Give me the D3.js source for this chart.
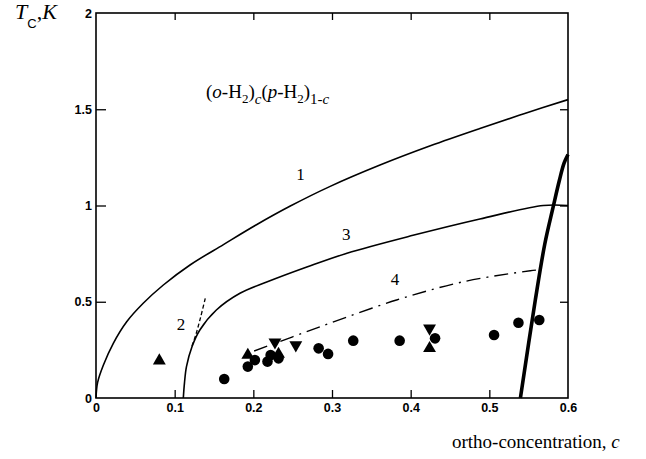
<!DOCTYPE html>
<html>
<head>
<meta charset="utf-8">
<script src="https://cdn.jsdelivr.net/npm/d3@7"></script>
<style>
  body { margin: 0; background: #fff; }
  svg { display: block; }
  .tick text { font-family: 'Liberation Sans', Arial, sans-serif; font-weight: bold; font-size: 12.5px; fill: #000; }
  .tick line { stroke: #000; stroke-width: 1.3; }
  .serif { font-family: 'Liberation Serif', 'Times New Roman', serif; fill: #000; }
</style>
</head>
<body>
<svg id="chart" width="646" height="459"></svg>
<script>
// curves, as (c, Tc) pairs
const curve1 = [
  [0, 0], [0.002, 0.08], [0.0093, 0.17], [0.022, 0.284], [0.039, 0.396], [0.06, 0.492],
  [0.0856, 0.587], [0.1195, 0.691], [0.162, 0.797], [0.204, 0.9], [0.247, 0.997],
  [0.297, 1.098], [0.361, 1.21], [0.425, 1.31], [0.488, 1.4], [0.545, 1.478], [0.6, 1.55]
];
const curve2 = [[0.122, 0.27], [0.127, 0.33], [0.133, 0.42], [0.139, 0.52]];
const curve3 = [
  [0.111, 0], [0.1125, 0.08], [0.115, 0.163], [0.122, 0.266], [0.132, 0.353], [0.153, 0.457],
  [0.183, 0.544], [0.217, 0.602], [0.268, 0.68], [0.319, 0.752], [0.403, 0.845],
  [0.488, 0.93], [0.5686, 1.0], [0.6, 1.0]
];
const curve4 = [
  [0.201, 0.244], [0.25, 0.318], [0.297, 0.388], [0.382, 0.509],
  [0.467, 0.604], [0.552, 0.661], [0.564, 0.666]
];
const curve5 = [
  [0.5395, 0], [0.5585, 0.51], [0.5705, 0.8], [0.581, 0.99],
  [0.589, 1.13], [0.595, 1.22], [0.6, 1.265]
];

const circles = [
  [0.163, 0.099], [0.193, 0.163], [0.202, 0.197], [0.218, 0.189], [0.222, 0.223],
  [0.232, 0.206], [0.283, 0.258], [0.295, 0.229], [0.327, 0.298], [0.386, 0.298],
  [0.431, 0.31], [0.506, 0.327], [0.537, 0.391], [0.5635, 0.405]
];
const trianglesUp = [[0.0805, 0.194], [0.193, 0.223], [0.232, 0.228], [0.424, 0.258]];
const trianglesDown = [[0.2275, 0.29], [0.254, 0.275], [0.424, 0.362]];

const xTicks = [0, 0.1, 0.2, 0.3, 0.4, 0.5, 0.6];
const yTicks = [0, 0.5, 1, 1.5, 2];

const curveLabels = [
  { text: '1', c: 0.26, t: 1.13 },
  { text: '2', c: 0.108, t: 0.355 },
  { text: '3', c: 0.318, t: 0.82 },
  { text: '4', c: 0.38, t: 0.585 }
];

const svg = d3.select('#chart');
const mLeft = 96, mRight = 568, mTop = 13, mBottom = 398;

const x = d3.scaleLinear().domain([0, 0.6]).range([mLeft, mRight]);
const y = d3.scaleLinear().domain([0, 2]).range([mBottom, mTop]);

// axes, ticks pointing inward
svg.append('g')
  .attr('transform', `translate(${mLeft},0)`)
  .call(d3.axisLeft(y).tickValues(yTicks).tickSize(-10).tickPadding(4)
    .tickFormat(d => d === 0 ? '0' : d3.format('~g')(d)))
  .call(g => g.select('.domain').remove())
  .call(g => g.selectAll('.tick').filter(d => d === 0 || d === 2).select('line').remove());

svg.append('g')
  .attr('transform', `translate(0,${mBottom})`)
  .call(d3.axisBottom(x).tickValues(xTicks).tickSize(-8).tickPadding(5)
    .tickFormat(d => d === 0 ? '0' : d3.format('.1f')(d)))
  .call(g => g.select('.domain').remove())
  .call(g => g.selectAll('.tick').filter(d => d === 0 || d === 0.6).select('line').remove());

svg.append('g')
  .attr('transform', `translate(0,${mTop})`)
  .call(d3.axisTop(x).tickValues(xTicks.slice(1, 6)).tickSize(-7).tickFormat(''))
  .call(g => g.select('.domain').remove());

svg.append('g')
  .attr('transform', `translate(${mRight},0)`)
  .call(d3.axisRight(y).tickValues([0.5, 1, 1.5]).tickSize(-8).tickFormat(''))
  .call(g => g.select('.domain').remove());

svg.append('rect')
  .attr('x', mLeft).attr('y', mTop)
  .attr('width', mRight - mLeft).attr('height', mBottom - mTop)
  .attr('fill', 'none').attr('stroke', '#000').attr('stroke-width', 1.6);

const line = d3.line()
  .x(d => x(d[0]))
  .y(d => y(d[1]))
  .curve(d3.curveCatmullRom.alpha(0.5));

const curves = [
  { data: curve1, width: 1.6, dash: null },
  { data: curve3, width: 1.6, dash: null },
  { data: curve2, width: 1.3, dash: '4,2.5' },
  { data: curve4, width: 1.4, dash: '14,6,2,6' },
  { data: curve5, width: 3.6, dash: null }
];

svg.append('g')
  .selectAll('path')
  .data(curves)
  .join('path')
  .attr('d', d => line(d.data))
  .attr('fill', 'none')
  .attr('stroke', '#000')
  .attr('stroke-width', d => d.width)
  .attr('stroke-dasharray', d => d.dash);

// markers
svg.append('g')
  .selectAll('circle')
  .data(circles)
  .join('circle')
  .attr('cx', d => x(d[0]))
  .attr('cy', d => y(d[1]))
  .attr('r', 5.3)
  .attr('fill', '#000');

const tri = d3.symbol().type(d3.symbolTriangle).size(72);

svg.append('g')
  .selectAll('path')
  .data(trianglesUp)
  .join('path')
  .attr('d', tri)
  .attr('transform', d => `translate(${x(d[0])},${y(d[1])})`)
  .attr('fill', '#000');

svg.append('g')
  .selectAll('path')
  .data(trianglesDown)
  .join('path')
  .attr('d', tri)
  .attr('transform', d => `translate(${x(d[0])},${y(d[1])}) rotate(180)`)
  .attr('fill', '#000');

// curve labels
svg.append('g')
  .selectAll('text')
  .data(curveLabels)
  .join('text')
  .attr('class', 'serif')
  .attr('x', d => x(d.c))
  .attr('y', d => y(d.t))
  .attr('text-anchor', 'middle')
  .attr('font-size', 17)
  .text(d => d.text);

// y title
const yt = svg.append('text').attr('class', 'serif').attr('x', 15).attr('y', 19).attr('font-size', 22);
yt.append('tspan').attr('font-style', 'italic').text('T');
yt.append('tspan').attr('font-size', 13).attr('font-family', 'Liberation Sans, Arial, sans-serif').attr('dy', 9).text('C');
yt.append('tspan').attr('dy', -9).text(',');
yt.append('tspan').attr('font-style', 'italic').text('K');

// formula
const f = svg.append('text').attr('class', 'serif').attr('x', 206).attr('y', 98).attr('font-size', 19);
f.append('tspan').text('(');
f.append('tspan').attr('font-style', 'italic').text('o');
f.append('tspan').text('-H');
f.append('tspan').attr('font-size', 13).attr('dy', 5).text('2');
f.append('tspan').attr('dy', -5).text(')');
f.append('tspan').attr('font-size', 15).attr('font-style', 'italic').attr('dy', 6).text('c');
f.append('tspan').attr('dy', -6).text('(');
f.append('tspan').attr('font-style', 'italic').text('p');
f.append('tspan').text('-H');
f.append('tspan').attr('font-size', 13).attr('dy', 5).text('2');
f.append('tspan').attr('dy', -5).text(')');
f.append('tspan').attr('font-size', 15).attr('dy', 6).text('1-');
f.append('tspan').attr('font-size', 15).attr('font-style', 'italic').text('c');

// x title
const xt = svg.append('text').attr('class', 'serif').attr('x', 452).attr('y', 448).attr('font-size', 19);
xt.append('tspan').text('ortho-concentration, ');
xt.append('tspan').attr('font-style', 'italic').text('c');
</script>
</body>
</html>
